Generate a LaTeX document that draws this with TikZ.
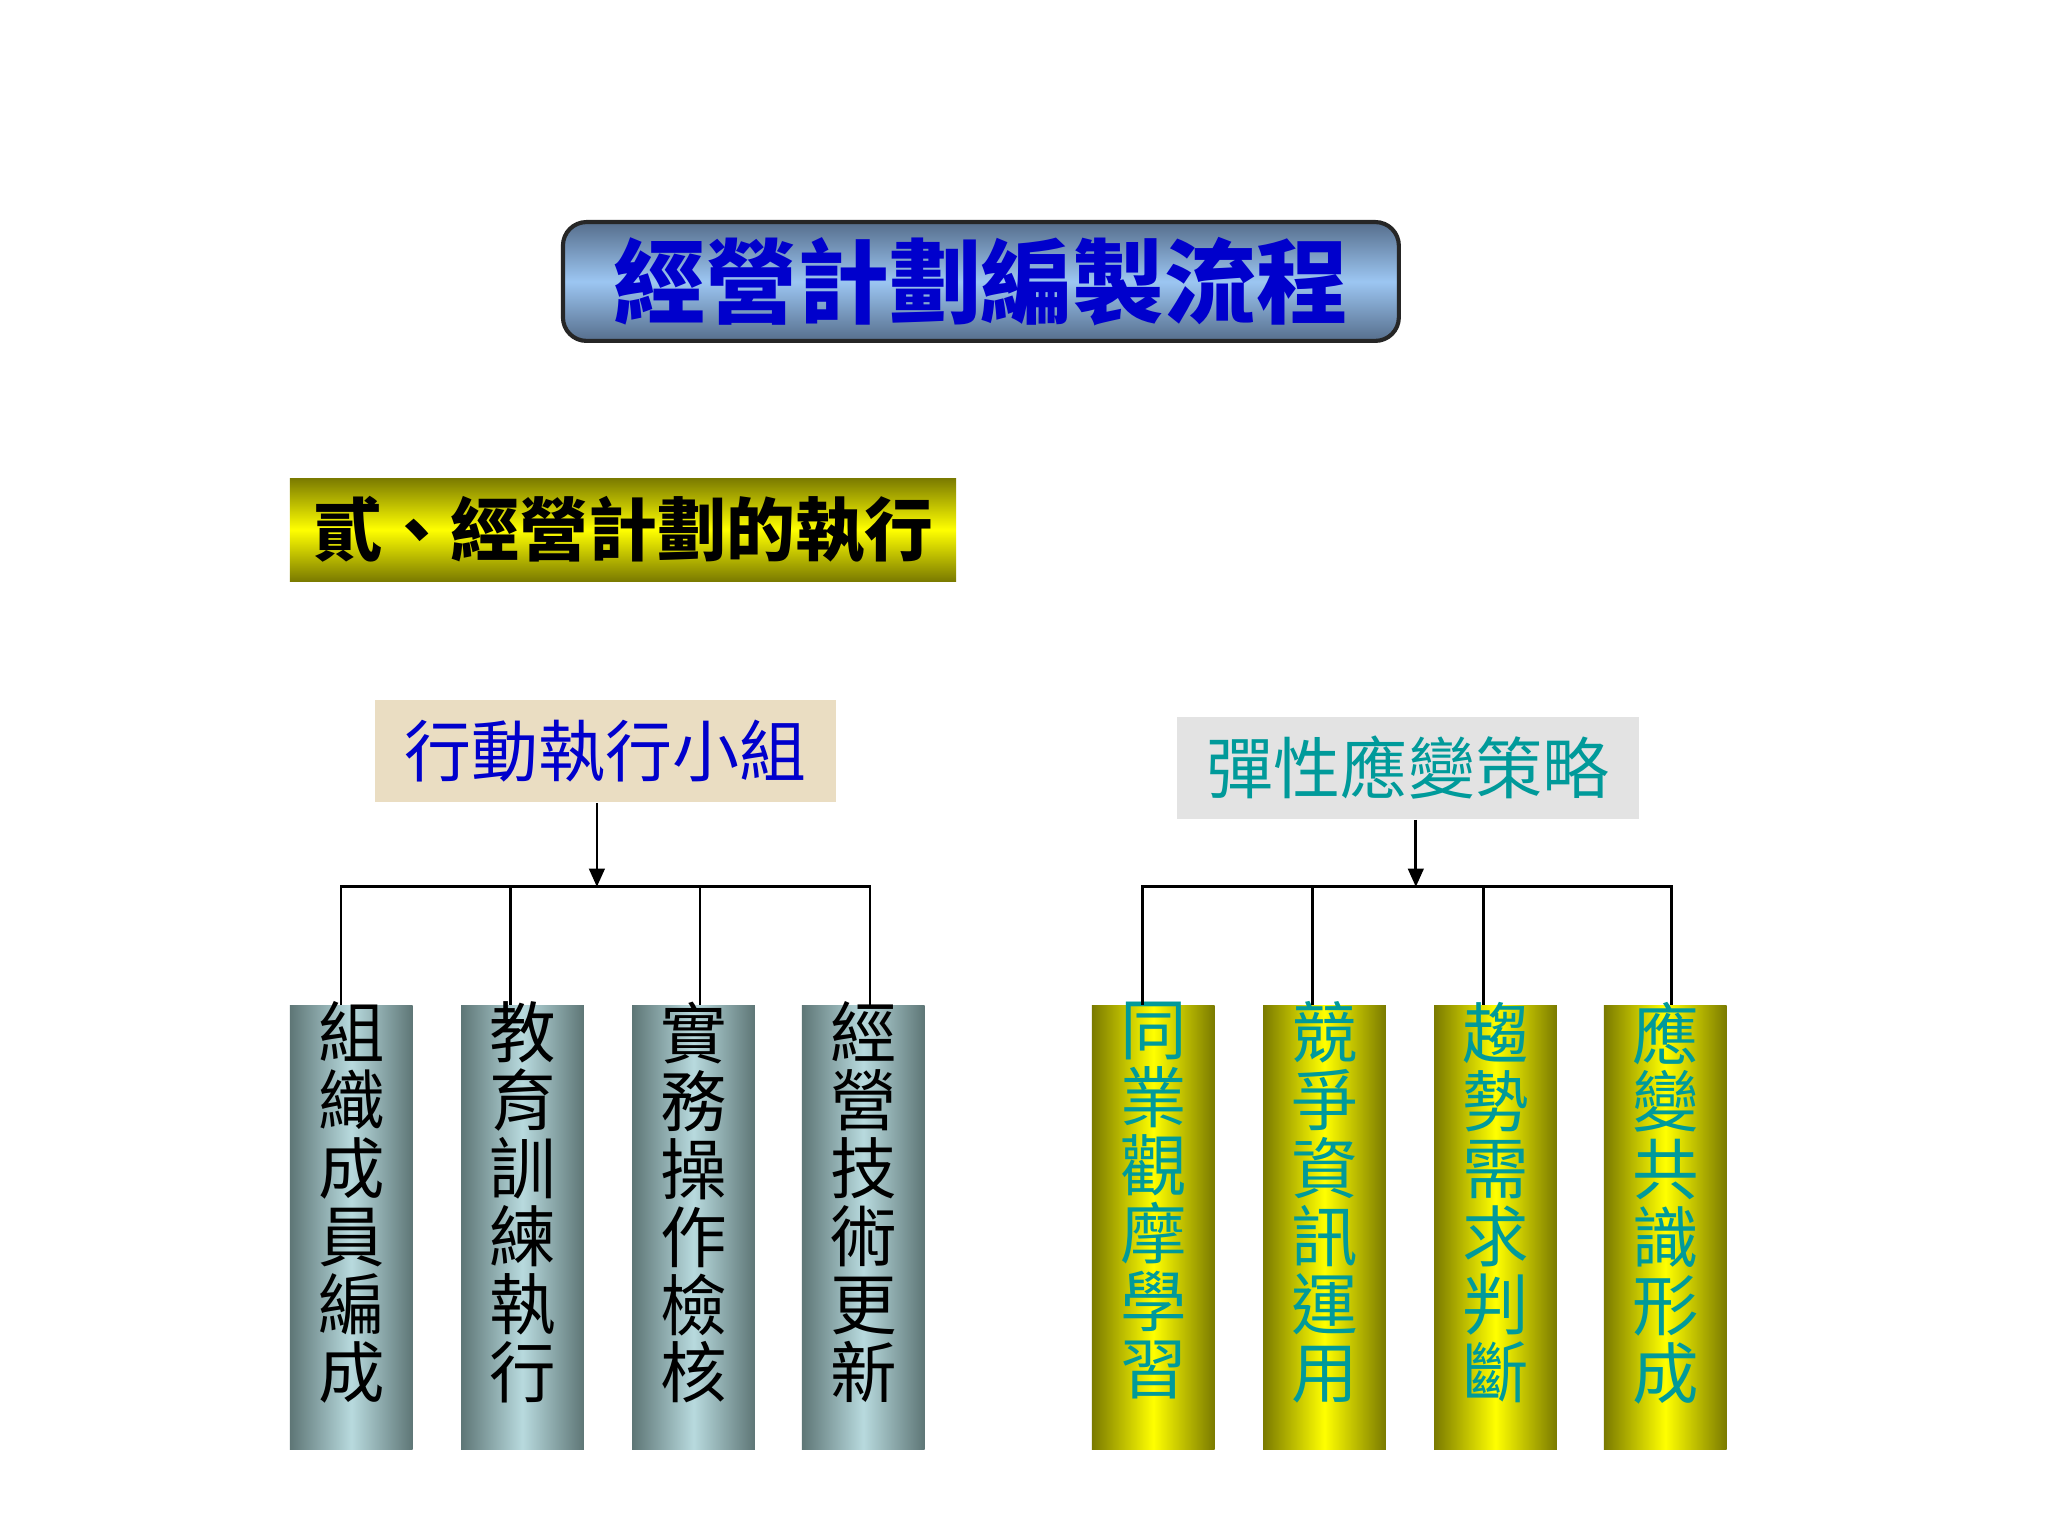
\documentclass[tikz,border=0pt]{standalone}
\usepackage{fontspec}
\setmainfont{Noto Sans CJK TC}
\usetikzlibrary{positioning,arrows.meta}

\begin{document}
\begin{tikzpicture}[x=0.1mm, y=-0.1mm]
  \definecolor{myslate}{HTML}{5E7676}
  \definecolor{myice}{HTML}{B8DADE}
  \definecolor{myolive}{HTML}{7A7A00}
  \definecolor{mylemon}{HTML}{FFFF00}
  \definecolor{mysteel}{HTML}{566E8C}
  \definecolor{mysky}{HTML}{9CC6F2}
  \definecolor{myparch}{HTML}{EADDC2}
  \definecolor{mygranite}{HTML}{E3E3E3}
  \definecolor{myblue}{HTML}{0000CC}
  \definecolor{myteal}{HTML}{009A9A}
  \tikzstyle{every node}=[inner sep=0pt]
  \tikzstyle{title box}=[rectangle, rounded corners=0.18cm, draw=black!85, line width=0.9pt,
    minimum width=6.4cm, minimum height=0.91cm, top color=mysteel, bottom color=mysteel,
    middle color=mysky, text=myblue, font=\fontsize{20}{24}\selectfont]
  \tikzstyle{sub box}=[rectangle, minimum width=5.1cm, minimum height=0.79cm,
    top color=myolive, bottom color=myolive, middle color=mylemon,
    font=\fontsize{15}{18}\selectfont]
  \tikzstyle{head box}=[rectangle, minimum width=3.53cm, minimum height=0.78cm,
    font=\fontsize{14.6}{18}\selectfont]
  \tikzstyle{grey col}=[rectangle, minimum width=0.94cm, minimum height=3.4cm,
    left color=myslate, right color=myslate, middle color=myice]
  \tikzstyle{gold col}=[rectangle, minimum width=0.94cm, minimum height=3.4cm,
    left color=myolive, right color=myolive, middle color=mylemon]
  \tikzstyle{col text}=[align=center, font=\fontsize{14.5}{14.8}\selectfont]
  \tikzstyle{link}=[line width=0.6pt]
  \tikzstyle{feed}=[line width=0.6pt, -{Triangle[length=4pt, width=3.4pt]}]

  \useasboundingbox (0,0) rectangle (1568,1176);

  % headings
  \node[title box] (title) at (751,215.5) {\bf 經營計劃編製流程};
  \node[sub box] (sub) at (477,405.5) {\bf 貳、經營計劃的執行};
  \node[head box, fill=myparch, text=myblue] (team) at (463.5,575) {行動執行小組};
  \node[head box, fill=mygranite, text=myteal] (plan) at (1078,588) {彈性應變策略};

  % left columns
  \node[grey col] (c1) at (269,940) {};
  \node[grey col] (c2) at (400,940) {};
  \node[grey col] (c3) at (531,940) {};
  \node[grey col] (c4) at (661,940) {};
  \node[col text, below=-0.03cm of c1.north] (t1) {組\\織\\成\\員\\編\\成};
  \node[col text, below=-0.03cm of c2.north] (t2) {教\\育\\訓\\練\\執\\行};
  \node[col text, below=-0.03cm of c3.north] (t3) {實\\務\\操\\作\\檢\\核};
  \node[col text, below=-0.03cm of c4.north] (t4) {經\\營\\技\\術\\更\\新};

  % right columns
  \node[gold col] (c5) at (883,940) {};
  \node[gold col] (c6) at (1014,940) {};
  \node[gold col] (c7) at (1145,940) {};
  \node[gold col] (c8) at (1275,940) {};
  \node[col text, text=myteal, below=-0.03cm of c5.north] (t5) {同\\業\\觀\\摩\\學\\習};
  \node[col text, text=myteal, below=-0.03cm of c6.north] (t6) {競\\爭\\資\\訊\\運\\用};
  \node[col text, text=myteal, below=-0.03cm of c7.north] (t7) {趨\\勢\\需\\求\\判\\斷};
  \node[col text, text=myteal, below=-0.03cm of c8.north] (t8) {應\\變\\共\\識\\形\\成};

  % connectors
  \coordinate (lbar) at (457,679);
  \coordinate (rbar) at (1084,679);
  \draw[feed] (team.south -| lbar) -- (lbar);
  \draw[feed] (plan.south -| rbar) -- (rbar);
  \draw[link] ([xshift=-0.08cm]c1.north) |- (lbar);
  \draw[link] ([xshift=-0.09cm]c2.north) |- (lbar);
  \draw[link] ([xshift=0.05cm]c3.north) |- (lbar);
  \draw[link] ([xshift=0.05cm]c4.north) |- (lbar);
  \draw[link] ([xshift=-0.08cm]c5.north) |- (rbar);
  \draw[link] ([xshift=-0.09cm]c6.north) |- (rbar);
  \draw[link] ([xshift=-0.09cm]c7.north) |- (rbar);
  \draw[link] ([xshift=0.05cm]c8.north) |- (rbar);

\end{tikzpicture}
\end{document}
